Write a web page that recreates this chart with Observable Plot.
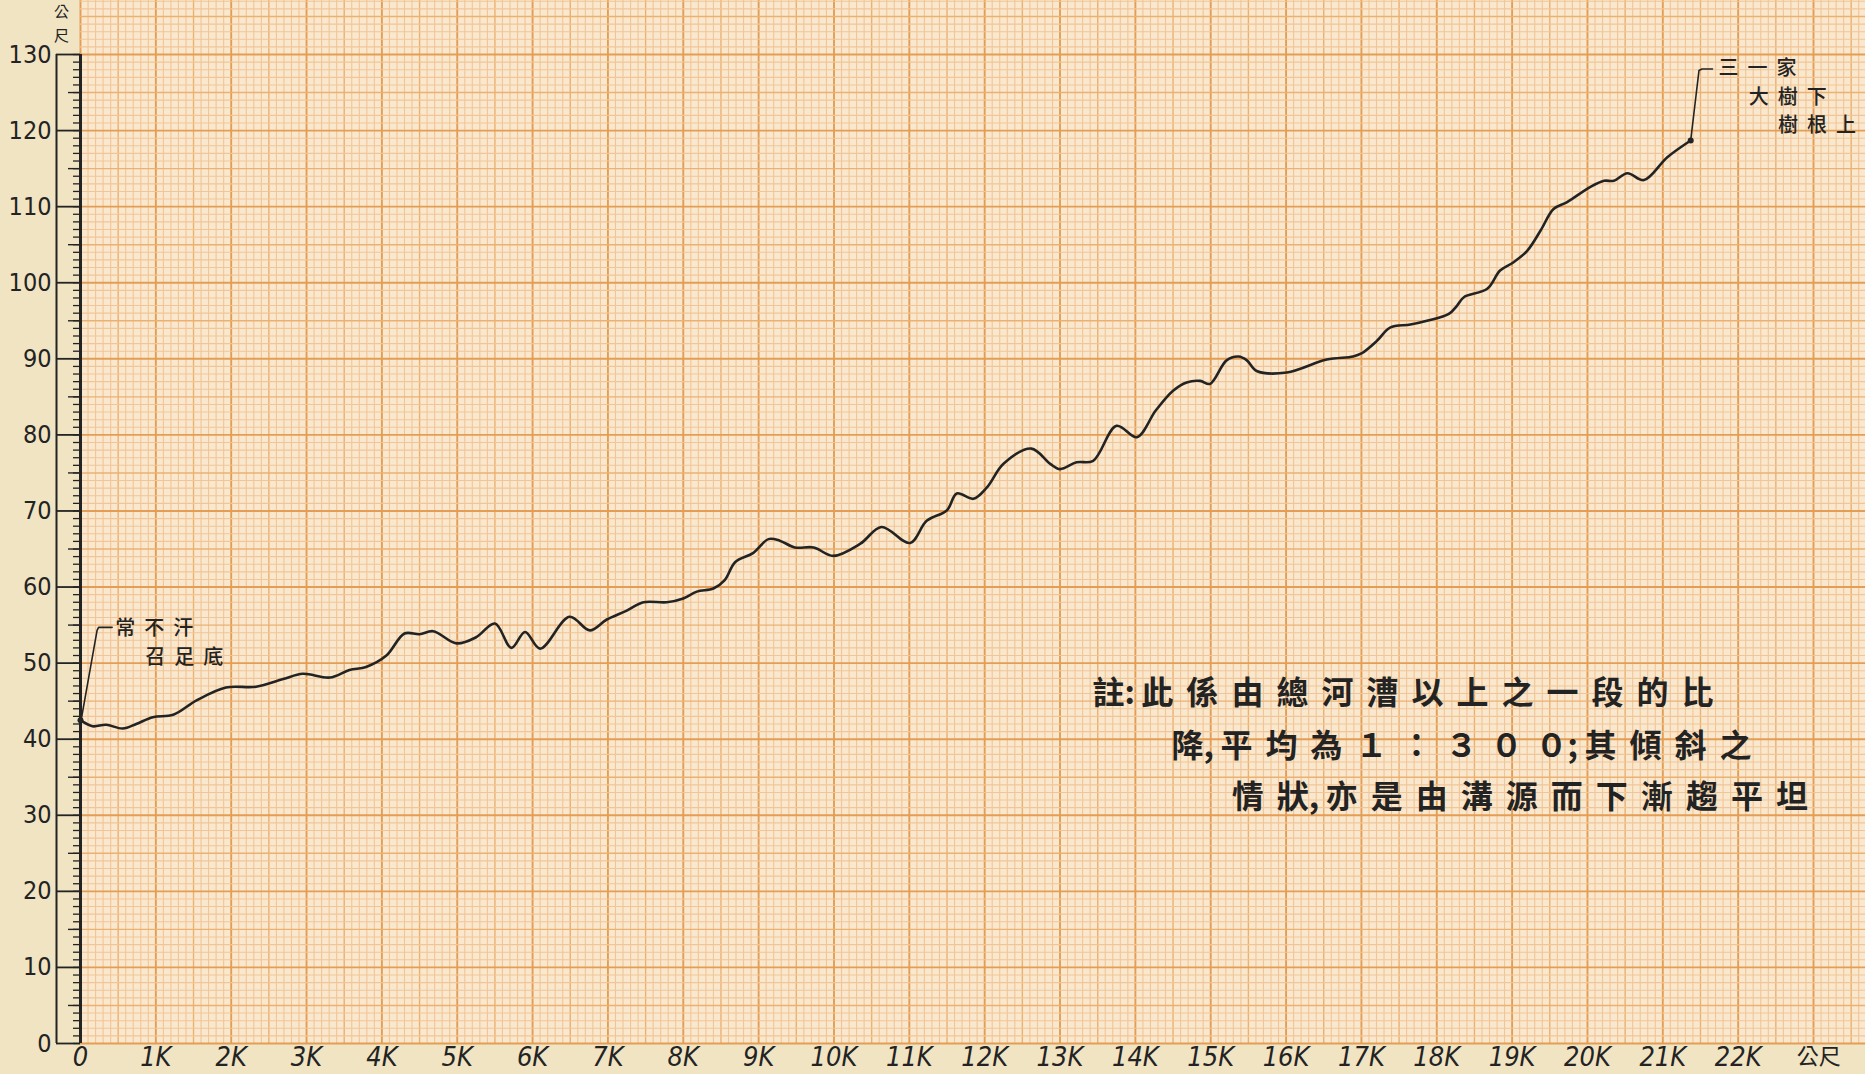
<!DOCTYPE html>
<html><head><meta charset="utf-8">
<script src="https://cdn.jsdelivr.net/npm/d3@7"></script>
<script src="https://cdn.jsdelivr.net/npm/@observablehq/plot@0.6"></script>
<style>
html,body{margin:0;padding:0;background:#f1e4c3;overflow:hidden;}
#chart{width:1865px;height:1074px;}
</style></head><body><div id="chart"></div>
<script>
// ---- data (distance in K = 1000 公尺, elevation in 公尺) ----
const distanceK = [0, 0.16, 0.34, 0.56, 0.74, 0.96, 1.23, 1.54, 1.93, 2.33, 2.69, 2.95, 3.31, 3.57, 3.79, 4.06, 4.30, 4.50, 4.68, 4.99, 5.25, 5.50, 5.72, 5.90, 6.10, 6.49, 6.76, 6.98, 7.25, 7.47, 7.78, 8.0, 8.18, 8.40, 8.55, 8.69, 8.93, 9.13, 9.28, 9.48, 9.73, 9.99, 10.35, 10.63, 11.01, 11.23, 11.50, 11.63, 11.85, 12.03, 12.25, 12.62, 12.87, 13.0, 13.22, 13.44, 13.75, 14.02, 14.27, 14.5, 14.68, 14.86, 14.99, 15.21, 15.37, 15.48, 15.61, 16.01, 16.54, 16.89, 17.0, 17.21, 17.38, 17.65, 17.87, 18.16, 18.27, 18.36, 18.67, 18.84, 19.02, 19.20, 19.38, 19.55, 19.73, 20.04, 20.22, 20.35, 20.53, 20.75, 21.06, 21.37];
const elevationM = [42.5, 41.7, 41.9, 41.4, 42.0, 42.9, 43.2, 45.1, 46.8, 46.9, 47.9, 48.6, 48.1, 49.1, 49.5, 51.0, 53.9, 53.8, 54.2, 52.6, 53.4, 55.2, 52.0, 54.1, 51.9, 56.1, 54.3, 55.7, 56.9, 58.0, 58.0, 58.5, 59.4, 59.8, 60.9, 63.3, 64.5, 66.3, 66.1, 65.2, 65.2, 64.1, 65.7, 67.9, 65.8, 68.7, 70.1, 72.3, 71.6, 73.1, 76.2, 78.2, 76.2, 75.5, 76.4, 76.6, 81.2, 79.7, 83.2, 85.8, 86.9, 87.1, 86.7, 89.8, 90.3, 89.8, 88.4, 88.2, 89.9, 90.3, 90.7, 92.4, 94.1, 94.5, 95.0, 95.9, 97.0, 98.1, 99.2, 101.6, 102.7, 104.2, 106.9, 109.7, 110.6, 112.6, 113.4, 113.4, 114.4, 113.5, 116.5, 118.7];

const xTickValues = [0,1,2,3,4,5,6,7,8,9,10,11,12,13,14,15,16,17,18,19,20,21,22];
const xTickLabels = ["0","1K","2K","3K","4K","5K","6K","7K","8K","9K","10K","11K","12K","13K","14K","15K","16K","17K","18K","19K","20K","21K","22K"];
const yTickValues = [0,10,20,30,40,50,60,70,80,90,100,110,120,130];
const yTickLabels = ["0","10","20","30","40","50","60","70","80","90","100","110","120","130"];
const xUnit = "公尺";
const yUnitTop = "公";
const yUnitBottom = "尺";

// leader lines to the place-name notes
const startLeaderK = [0.01, 0.22, 0.24, 0.42];
const startLeaderM = [42.6, 54.3, 54.7, 54.7];
const endLeaderK = [21.37, 21.48, 21.52, 21.66];
const endLeaderM = [118.7, 127.9, 128.1, 128.1];

const placeTexts = ["常不汗", "召足底", "三一家", "大樹下", "樹根上"];
const placeK = [0.46, 0.86, 21.74, 22.14, 22.53];
const placeM = [54.6, 50.7, 128.2, 124.3, 120.7];

const noteTexts = ["註:此係由總河漕以上之一段的比", "降,平均為１：３００;其傾斜之", "情狀,亦是由溝源而下漸趨平坦"];
const noteK = [13.43, 14.48, 15.28];
const noteM = [46.0, 39.0, 32.3];

// ---- derived tables ----
const profile = distanceK.map((k, i) => ({k, m: elevationM[i]}));
const startLeader = startLeaderK.map((k, i) => ({k, m: startLeaderM[i]}));
const endLeader = endLeaderK.map((k, i) => ({k, m: endLeaderM[i]}));
const places = placeTexts.map((t, i) => ({t, k: placeK[i], m: placeM[i]}));
const notes = noteTexts.map((t, i) => ({t, k: noteK[i], m: noteM[i]}));

const XMAX = 23.69, YMAX = 137.1;
const gx = d3.range(0, 237).map(i => ({v: i / 10, c: i % 10 === 0 ? 2 : i % 5 === 0 ? 1 : 0}));
const gy = d3.range(0, 138).map(i => ({v: i, c: i % 10 === 0 ? 2 : i % 5 === 0 ? 1 : 0}));
const gridColor = ["#f1c597", "#ecb070", "#e49d55"];
const gridWidth = [1.1, 1.4, 1.9];

const CJK = "'Noto Sans CJK TC', 'Noto Sans CJK SC', sans-serif";
const NUM = "'Liberation Sans Narrow', 'DejaVu Sans Condensed', 'Liberation Sans', sans-serif";
const INK = "#232323";

const marks = [
  Plot.frame({fill: "#f9e8cd", stroke: null}),
  ...[0, 1, 2].map(c => Plot.ruleX(gx.filter(d => d.c === c), {x: "v", stroke: gridColor[c], strokeWidth: gridWidth[c]})),
  ...[0, 1, 2].map(c => Plot.ruleY(gy.filter(d => d.c === c), {y: "v", stroke: gridColor[c], strokeWidth: gridWidth[c]})),
  // ruler-style y axis
  Plot.axisY(d3.range(0, 131), {tickSize: 7, tickFormat: () => "", stroke: INK, strokeWidth: 1.3, label: null}),
  Plot.axisY(d3.range(5, 131, 10), {tickSize: 12, tickFormat: () => "", stroke: INK, strokeWidth: 1.4, label: null}),
  Plot.axisY(yTickValues, {tickSize: 24, tickPadding: 5, stroke: INK, strokeWidth: 1.8, label: null,
    tickFormat: d => yTickLabels[yTickValues.indexOf(d)], fontSize: 25, fontFamily: NUM, fill: INK}),
  Plot.ruleX([0], {y1: 0, y2: 130, stroke: INK, strokeWidth: 3}),
  Plot.ruleX([0], {y1: 0, y2: 130, dx: -24, stroke: INK, strokeWidth: 2}),
  Plot.axisX(xTickValues, {tickSize: 0, tickPadding: 3, label: null,
    tickFormat: d => xTickLabels[xTickValues.indexOf(d)], fontSize: 27, fontFamily: NUM, fontStyle: "italic", fill: INK}),
  Plot.text([xUnit], {x: 23.07, y: 0, dy: 13, fontSize: 22, fontFamily: CJK, fill: INK}),
  Plot.text([yUnitTop], {x: 0, y: 135.5, dx: -19, fontSize: 15, fontFamily: CJK, fill: INK}),
  Plot.text([yUnitBottom], {x: 0, y: 132.4, dx: -19, fontSize: 15, fontFamily: CJK, fill: INK}),
  // profile
  Plot.line(profile, {x: "k", y: "m", stroke: INK, strokeWidth: 2.6, curve: "catmull-rom"}),
  Plot.line(startLeader, {x: "k", y: "m", stroke: INK, strokeWidth: 1.6}),
  Plot.line(endLeader, {x: "k", y: "m", stroke: INK, strokeWidth: 1.6}),
  Plot.dot([profile[profile.length - 1], profile[0]], {x: "k", y: "m", r: 3, fill: INK}),
  Plot.text(places, {x: "k", y: "m", text: "t", textAnchor: "start", fontSize: 20, fontFamily: CJK, fontWeight: 500, fill: INK}),
  Plot.text(notes, {x: "k", y: "m", text: "t", textAnchor: "start", fontSize: 32, fontFamily: CJK, fontWeight: 600, fill: INK})
];

const svg = Plot.plot({
  width: 1865, height: 1074,
  marginLeft: 80, marginRight: 0, marginTop: 0, marginBottom: 31,
  x: {domain: [0, XMAX]},
  y: {domain: [0, YMAX]},
  style: {background: "transparent", overflow: "visible"},
  marks
});

// hand-lettered spacing
const spacing = new Map([...noteTexts.map(t => [t, 13]), ...placeTexts.map(t => [t, 9])]);
d3.select(svg).selectAll("text").each(function () {
  const s = this.textContent;
  if (!spacing.has(s)) return;
  const ls = spacing.get(s);
  const sel = d3.select(this);
  sel.text(null);
  const chars = Array.from(s);
  chars.forEach((ch, i) => {
    const next = chars[i + 1];
    const isP = /[,:;]/.test(ch);
    const nextP = next !== undefined && /[,:;]/.test(next);
    const last = i === chars.length - 1;
    sel.append("tspan").text(ch).style("letter-spacing", (last ? 0 : isP ? ls * 0.5 : nextP ? 0 : ls) + "px");
  });
});

document.getElementById("chart").append(svg);
</script>
</body></html>
